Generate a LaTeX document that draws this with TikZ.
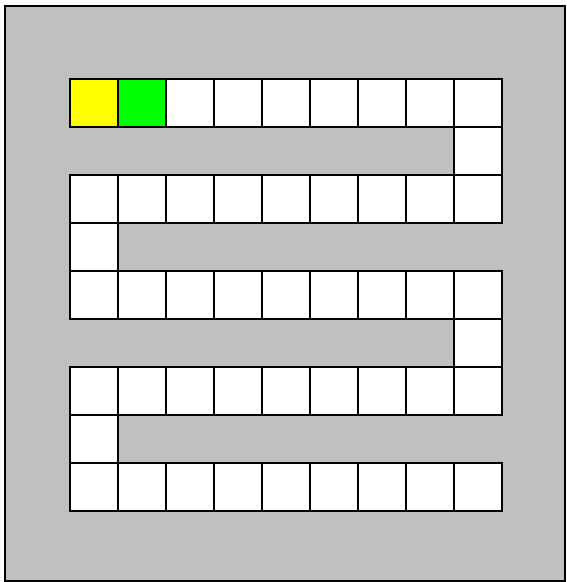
\documentclass[tikz,border=0pt]{standalone}
\usepackage{tikz}
\usepackage{xcolor}
\definecolor{boardgray}{HTML}{C0C0C0}
\definecolor{startyellow}{HTML}{FFFF00}
\definecolor{nextgreen}{HTML}{00FF00}

\begin{document}
\begin{tikzpicture}[x=1pt, y=-1pt,
    cell/.style={draw, line width=1.5pt, fill=white, minimum size=48pt, inner sep=0pt, anchor=north west}]
  \useasboundingbox (0,0) rectangle (566,582);

  % board
  \draw[fill=boardgray, line width=1.5pt] (5,6) rectangle (565,581);

  % full rows
  \foreach \r in {0,2,4,6,8}
    \foreach \c in {0,...,8}
      \node[cell] (c-\r-\c) at ({69+48*\c},{78+48*\r}) {};

  % turns
  \foreach \r/\c in {1/8, 3/0, 5/8, 7/0}
    \node[cell] (c-\r-\c) at ({69+48*\c},{78+48*\r}) {};

  % start and next
  \node[cell, fill=startyellow] (start) at (69,78) {};
  \node[cell, fill=nextgreen] (next) at (117,78) {};
\end{tikzpicture}
\end{document}
